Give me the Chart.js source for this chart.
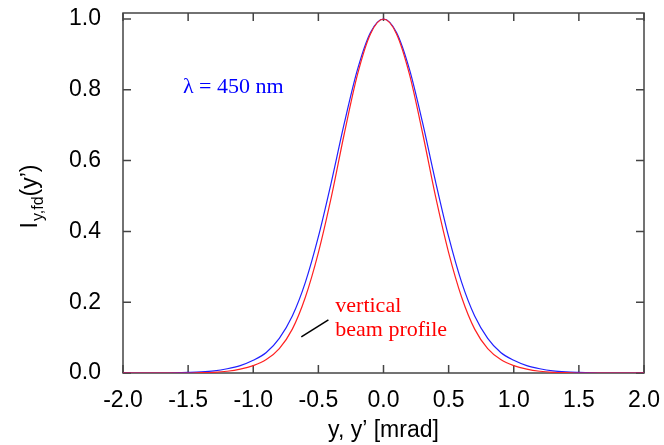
<!DOCTYPE html>
<html>
<head>
<meta charset="utf-8">
<script src="https://cdn.jsdelivr.net/npm/chart.js@4.4.1/dist/chart.umd.min.js"></script>
<style>
  html, body { margin: 0; padding: 0; background: #fff; }
  #wrap { width: 664px; height: 445px; }
</style>
</head>
<body>
<div id="wrap"><canvas id="c"></canvas></div>
<script>
// y, y' [mrad]
var angles = [-2.0,-1.9,-1.8,-1.7,-1.6,-1.5,-1.4,-1.3,-1.2,-1.1,-1.0,-0.9,-0.8,-0.7,-0.6,-0.5,-0.4,-0.3,-0.2,-0.1,
              0.0,0.1,0.2,0.3,0.4,0.5,0.6,0.7,0.8,0.9,1.0,1.1,1.2,1.3,1.4,1.5,1.6,1.7,1.8,1.9,2.0];
// vertical beam profile (red)
var beamProfile = [0,0,0,0,0,0,0.001,0.002,0.005,0.011,0.021,0.038,0.069,0.124,0.214,0.340,0.498,0.678,0.843,0.958,
                   1.0,0.958,0.843,0.678,0.498,0.340,0.214,0.124,0.069,0.038,0.021,0.011,0.005,0.002,0.001,0,0,0,0,0,0];
// lambda = 450 nm (blue)
var farField = [0,0,0,0,0.0005,0.0015,0.003,0.006,0.012,0.021,0.036,0.058,0.098,0.161,0.256,0.385,0.540,0.707,0.857,0.962,
                1.0,0.962,0.857,0.707,0.540,0.385,0.256,0.161,0.098,0.058,0.036,0.021,0.012,0.006,0.003,0.0015,0.0005,0,0,0,0];
var xTicks = [-2.0,-1.5,-1.0,-0.5,0.0,0.5,1.0,1.5,2.0];
var yTicks = [0.0,0.2,0.4,0.6,0.8,1.0];

var sans = '"Liberation Sans", Arial, sans-serif';
var serif = '"Liberation Serif", "Times New Roman", serif';

function pts(ys) {
  return angles.map(function(x, i){ return {x: x, y: ys[i]}; });
}

var framePlugin = {
  id: 'frame',
  beforeDatasetsDraw: function(chart) {
    var a = chart.chartArea, ctx = chart.ctx;
    var sx = chart.scales.x, sy = chart.scales.y;
    ctx.save();
    ctx.strokeStyle = '#444';
    ctx.lineWidth = 1.5;
    ctx.strokeRect(a.left, a.top, a.right - a.left, a.bottom - a.top);
    ctx.beginPath();
    xTicks.forEach(function(v){
      var p = sx.getPixelForValue(v);
      ctx.moveTo(p, a.bottom); ctx.lineTo(p, a.bottom - 8);
      ctx.moveTo(p, a.top); ctx.lineTo(p, a.top + 8);
    });
    yTicks.forEach(function(v){
      var p = sy.getPixelForValue(v);
      ctx.moveTo(a.left, p); ctx.lineTo(a.left + 8, p);
      ctx.moveTo(a.right, p); ctx.lineTo(a.right - 8, p);
    });
    ctx.stroke();
    ctx.restore();
  },
  afterDraw: function(chart) {
    var a = chart.chartArea, ctx = chart.ctx;
    var sx = chart.scales.x, sy = chart.scales.y;
    ctx.save();
    ctx.textBaseline = 'alphabetic';
    ctx.textAlign = 'left';

    // annotations
    ctx.fillStyle = '#0000ff';
    ctx.font = '22px ' + serif;
    ctx.fillText('\u03bb = 450 nm', sx.getPixelForValue(-1.54), sy.getPixelForValue(0.792));

    ctx.fillStyle = '#ff0000';
    ctx.fillText('vertical', sx.getPixelForValue(-0.37), sy.getPixelForValue(0.172));
    ctx.fillText('beam profile', sx.getPixelForValue(-0.37), sy.getPixelForValue(0.105));

    ctx.strokeStyle = '#000';
    ctx.lineWidth = 1.5;
    ctx.beginPath();
    ctx.moveTo(sx.getPixelForValue(-0.631), sy.getPixelForValue(0.102));
    ctx.lineTo(sx.getPixelForValue(-0.423), sy.getPixelForValue(0.150));
    ctx.stroke();

    // axis titles
    ctx.fillStyle = '#000';
    ctx.font = '23px ' + sans;
    ctx.textAlign = 'center';
    ctx.fillText('y, y\u2019 [mrad]', (a.left + a.right) / 2, 437);

    ctx.translate(37, 197);
    ctx.rotate(-Math.PI / 2);
    ctx.textAlign = 'left';
    var big = '23px ' + sans, small = '16px ' + sans;
    ctx.font = big; var w1 = ctx.measureText('I').width, w3 = ctx.measureText('(y\u2019)').width;
    ctx.font = small; var w2 = ctx.measureText('y,fd').width;
    var x0 = -(w1 + w2 + w3) / 2;
    ctx.font = big; ctx.fillText('I', x0, 0);
    ctx.font = small; ctx.fillText('y,fd', x0 + w1 + 1, 6);
    ctx.font = big; ctx.fillText('(y\u2019)', x0 + w1 + w2 + 1, 0);
    ctx.restore();
  }
};

new Chart(document.getElementById('c'), {
  type: 'line',
  data: {
    datasets: [
      { label: 'vertical beam profile', data: pts(beamProfile), borderColor: '#ff2020', borderWidth: 1.2 },
      { label: '\u03bb = 450 nm', data: pts(farField), borderColor: '#2020ff', borderWidth: 1.2 }
    ]
  },
  options: {
    responsive: true,
    maintainAspectRatio: false,
    animation: false,
    parsing: false,
    elements: { point: { radius: 0 }, line: { cubicInterpolationMode: 'monotone', fill: false } },
    layout: { padding: { top: 13, right: 20, left: 0, bottom: 0 } },
    plugins: { legend: { display: false }, tooltip: { enabled: false } },
    scales: {
      x: {
        type: 'linear', min: -2, max: 2,
        grid: { display: false }, border: { display: false },
        afterBuildTicks: function(s){ s.ticks = xTicks.map(function(v){ return {value: v}; }); },
        afterFit: function(s){ s.height = 72; s.paddingLeft = 0; s.paddingRight = 0; },
        ticks: { color: '#000', padding: 6, maxRotation: 0, autoSkip: false,
                 font: { family: sans, size: 23 },
                 callback: function(v){ return v.toFixed(1); } }
      },
      y: {
        type: 'linear', min: 0, max: 1.017,
        grid: { display: false }, border: { display: false },
        afterBuildTicks: function(s){ s.ticks = yTicks.map(function(v){ return {value: v}; }); },
        afterFit: function(s){ s.width = 123; s.paddingTop = 0; s.paddingBottom = 0; },
        ticks: { color: '#000', padding: 14, autoSkip: false,
                 font: { family: sans, size: 23 },
                 callback: function(v){ return v.toFixed(1); } }
      }
    }
  },
  plugins: [framePlugin]
});
</script>
</body>
</html>
